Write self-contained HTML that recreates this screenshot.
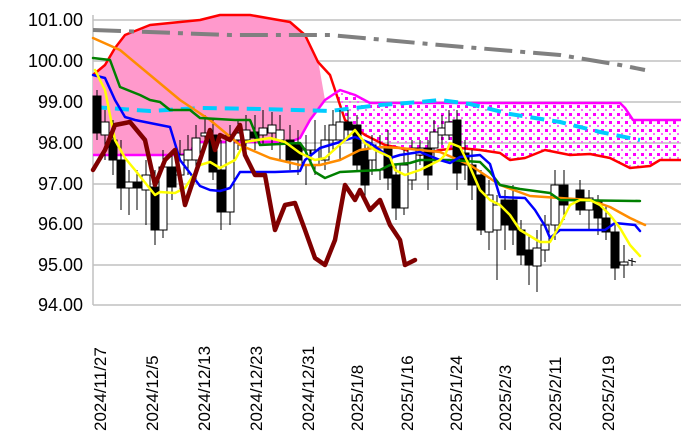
<!DOCTYPE html>
<html><head><meta charset="utf-8"><style>body{margin:0;background:#fff}svg{display:block}</style></head><body>
<svg width="681" height="432" viewBox="0 0 681 432" xmlns="http://www.w3.org/2000/svg" font-family="Liberation Sans, sans-serif">
<g stroke="#c0c0c0" stroke-width="1.5">
<line x1="93" y1="20" x2="681" y2="20"/><line x1="93" y1="61" x2="681" y2="61"/><line x1="93" y1="102" x2="681" y2="102"/><line x1="93" y1="143" x2="681" y2="143"/><line x1="93" y1="184" x2="681" y2="184"/><line x1="93" y1="224" x2="681" y2="224"/><line x1="93" y1="265" x2="681" y2="265"/><line x1="93" y1="305" x2="681" y2="305"/><line x1="93" y1="15" x2="93" y2="305"/>
</g>
<g font-size="18" text-anchor="end" fill="#000">
<text x="83" y="26">101.00</text><text x="83" y="67">100.00</text><text x="83" y="108">99.00</text><text x="83" y="149">98.00</text><text x="83" y="190">97.00</text><text x="83" y="230">96.00</text><text x="83" y="271">95.00</text><text x="83" y="311">94.00</text>
</g>
<g font-size="17" fill="#000">
<text transform="translate(106,431) rotate(-90)">2024/11/27</text>
<text transform="translate(158,431) rotate(-90)">2024/12/5</text>
<text transform="translate(210,431) rotate(-90)">2024/12/13</text>
<text transform="translate(262,431) rotate(-90)">2024/12/23</text>
<text transform="translate(314,431) rotate(-90)">2024/12/31</text>
<text transform="translate(363,431) rotate(-90)">2025/1/8</text>
<text transform="translate(413,431) rotate(-90)">2025/1/16</text>
<text transform="translate(462,431) rotate(-90)">2025/1/24</text>
<text transform="translate(511,431) rotate(-90)">2025/2/3</text>
<text transform="translate(561,431) rotate(-90)">2025/2/11</text>
<text transform="translate(614,431) rotate(-90)">2025/2/19</text>
</g>
<defs><pattern id="dots" width="8" height="8" patternUnits="userSpaceOnUse"><rect x="1" y="1" width="3" height="3" fill="#ff00ff"/><rect x="5" y="5" width="2" height="2" fill="#ff66ff"/></pattern></defs>
<polygon fill="#ff99cc" points="93,75 105,65 115,48 125,35 150,25 200,20 220,15 250,15 290,22 305,35 318,60 325,100 310,120 300,138 290,142 195,142 190,153 180,155 93,155"/>
<polygon fill="url(#dots)" points="325,100 340,90 355,95 370,103 620,103 625,108 633,120 681,120 681,160 660,160 650,166 630,168 610,158 590,154 570,155 545,150 525,158 510,160 500,153 480,150 460,148 440,150 420,155 400,148 385,145 365,135 345,120 335,95"/>
<g fill="none" stroke-linejoin="round">
<polyline stroke="#ff0000" stroke-width="2.5" points="93,75 105,65 115,48 125,35 150,25 200,20 220,15 250,15 290,22 305,35 318,62 330,75 335,90 345,120 365,135 385,145 400,148 420,155 440,150 460,148 480,150 500,153 510,160 525,158 545,150 570,155 590,154 610,158 630,168 650,166 660,160 681,160"/>
<polyline stroke="#ff00ff" stroke-width="2.5" points="93,155 180,155 190,153 195,142 290,142 300,138 310,120 325,100 340,90 355,95 370,103 620,103 625,108 633,120 681,120"/>
<polyline stroke="#808080" stroke-width="4" stroke-dasharray="28,8,5,8" points="93,30 230,35 330,35 440,45 560,55 620,65 645,70"/>
<polyline stroke="#00ccff" stroke-width="4" stroke-dasharray="14,8" points="93,107 150,111 200,108 260,109 330,111 380,105 420,102 440,100 470,104 510,114 560,122 600,132 640,140"/>
</g>
<g stroke="#000" stroke-width="1">
<line x1="97" y1="90" x2="97" y2="140"/><rect x="93" y="96" width="8" height="37" fill="#000"/>
<line x1="105" y1="110" x2="105" y2="160"/><rect x="101" y="122" width="8" height="13" fill="#fff"/>
<line x1="113" y1="120" x2="113" y2="175"/><rect x="109" y="140" width="8" height="20" fill="#000"/>
<line x1="121" y1="140" x2="121" y2="210"/><rect x="117" y="160" width="8" height="28" fill="#000"/>
<line x1="129" y1="170" x2="129" y2="215"/><rect x="125" y="182" width="8" height="6" fill="#fff"/>
<line x1="137" y1="170" x2="137" y2="210"/><rect x="133" y="182" width="8" height="6" fill="#000"/>
<line x1="146" y1="160" x2="146" y2="225"/><rect x="142" y="175" width="8" height="15" fill="#fff"/>
<line x1="155" y1="170" x2="155" y2="245"/><rect x="151" y="187" width="8" height="43" fill="#000"/>
<line x1="163" y1="150" x2="163" y2="238"/><rect x="159" y="167" width="8" height="63" fill="#fff"/>
<line x1="172" y1="150" x2="172" y2="200"/><rect x="168" y="167" width="8" height="20" fill="#000"/>
<line x1="180" y1="140" x2="180" y2="190"/><rect x="176" y="155" width="8" height="20" fill="#fff"/>
<line x1="188" y1="135" x2="188" y2="175"/><rect x="184" y="150" width="8" height="10" fill="#fff"/>
<line x1="196" y1="125" x2="196" y2="180"/><rect x="192" y="138" width="8" height="22" fill="#fff"/>
<line x1="205" y1="115" x2="205" y2="150"/><rect x="201" y="133" width="8" height="3" fill="#fff"/>
<line x1="213" y1="118" x2="213" y2="180"/><rect x="209" y="135" width="8" height="37" fill="#000"/>
<line x1="221" y1="140" x2="221" y2="230"/><rect x="217" y="170" width="8" height="42" fill="#000"/>
<line x1="230" y1="125" x2="230" y2="225"/><rect x="226" y="135" width="8" height="77" fill="#fff"/>
<line x1="238" y1="120" x2="238" y2="150"/><rect x="234" y="133" width="8" height="7" fill="#fff"/>
<line x1="246" y1="115" x2="246" y2="160"/><rect x="242" y="130" width="8" height="10" fill="#fff"/>
<line x1="255" y1="115" x2="255" y2="150"/><rect x="251" y="132" width="8" height="6" fill="#000"/>
<line x1="263" y1="110" x2="263" y2="145"/><rect x="259" y="128" width="8" height="7" fill="#fff"/>
<line x1="272" y1="112" x2="272" y2="150"/><rect x="268" y="125" width="8" height="8" fill="#fff"/>
<line x1="280" y1="115" x2="280" y2="160"/><rect x="276" y="130" width="8" height="10" fill="#fff"/>
<line x1="290" y1="125" x2="290" y2="170"/><rect x="286" y="140" width="8" height="20" fill="#000"/>
<line x1="298" y1="130" x2="298" y2="175"/><rect x="294" y="145" width="8" height="15" fill="#000"/>
<line x1="306" y1="135" x2="306" y2="185"/><rect x="302" y="150" width="8" height="15" fill="#fff"/>
<line x1="315" y1="120" x2="315" y2="175"/><rect x="311" y="150" width="8" height="15" fill="#fff"/>
<line x1="325" y1="125" x2="325" y2="170"/><rect x="321" y="140" width="8" height="20" fill="#fff"/>
<line x1="333" y1="110" x2="333" y2="150"/><rect x="329" y="125" width="8" height="15" fill="#fff"/>
<line x1="340" y1="110" x2="340" y2="160"/><rect x="336" y="122" width="8" height="18" fill="#fff"/>
<line x1="348" y1="110" x2="348" y2="140"/><rect x="344" y="122" width="8" height="8" fill="#000"/>
<line x1="357" y1="115" x2="357" y2="170"/><rect x="353" y="125" width="8" height="40" fill="#000"/>
<line x1="365" y1="140" x2="365" y2="200"/><rect x="361" y="150" width="8" height="35" fill="#000"/>
<line x1="372" y1="135" x2="372" y2="175"/><rect x="368" y="145" width="8" height="15" fill="#fff"/>
<line x1="380" y1="135" x2="380" y2="180"/><rect x="376" y="148" width="8" height="22" fill="#fff"/>
<line x1="388" y1="130" x2="388" y2="190"/><rect x="384" y="148" width="8" height="30" fill="#000"/>
<line x1="396" y1="165" x2="396" y2="220"/><rect x="392" y="175" width="8" height="33" fill="#000"/>
<line x1="404" y1="150" x2="404" y2="215"/><rect x="400" y="165" width="8" height="43" fill="#fff"/>
<line x1="412" y1="140" x2="412" y2="190"/><rect x="408" y="148" width="8" height="32" fill="#fff"/>
<line x1="420" y1="140" x2="420" y2="165"/><rect x="416" y="148" width="8" height="7" fill="#fff"/>
<line x1="428" y1="140" x2="428" y2="190"/><rect x="424" y="148" width="8" height="27" fill="#000"/>
<line x1="434" y1="120" x2="434" y2="160"/><rect x="430" y="132" width="8" height="16" fill="#fff"/>
<line x1="442" y1="115" x2="442" y2="145"/><rect x="438" y="128" width="8" height="7" fill="#fff"/>
<line x1="449" y1="110" x2="449" y2="140"/><rect x="445" y="122" width="8" height="13" fill="#fff"/>
<line x1="457" y1="110" x2="457" y2="190"/><rect x="453" y="120" width="8" height="53" fill="#000"/>
<line x1="465" y1="140" x2="465" y2="180"/><rect x="461" y="153" width="8" height="12" fill="#000"/>
<line x1="472" y1="150" x2="472" y2="200"/><rect x="468" y="165" width="8" height="20" fill="#000"/>
<line x1="481" y1="170" x2="481" y2="235"/><rect x="477" y="175" width="8" height="55" fill="#000"/>
<line x1="489" y1="180" x2="489" y2="250"/><rect x="485" y="195" width="8" height="37" fill="#fff"/>
<line x1="497" y1="195" x2="497" y2="280"/><rect x="493" y="205" width="8" height="25" fill="#fff"/>
<line x1="505" y1="190" x2="505" y2="250"/><rect x="501" y="200" width="8" height="25" fill="#000"/>
<line x1="513" y1="185" x2="513" y2="245"/><rect x="509" y="200" width="8" height="30" fill="#000"/>
<line x1="521" y1="220" x2="521" y2="265"/><rect x="517" y="230" width="8" height="25" fill="#000"/>
<line x1="529" y1="235" x2="529" y2="285"/><rect x="525" y="250" width="8" height="15" fill="#000"/>
<line x1="537" y1="230" x2="537" y2="292"/><rect x="533" y="248" width="8" height="18" fill="#fff"/>
<line x1="545" y1="215" x2="545" y2="262"/><rect x="541" y="225" width="8" height="25" fill="#fff"/>
<line x1="555" y1="170" x2="555" y2="240"/><rect x="551" y="185" width="8" height="40" fill="#fff"/>
<line x1="564" y1="170" x2="564" y2="220"/><rect x="560" y="185" width="8" height="20" fill="#000"/>
<line x1="580" y1="180" x2="580" y2="215"/><rect x="576" y="190" width="8" height="20" fill="#000"/>
<line x1="589" y1="190" x2="589" y2="230"/><rect x="585" y="198" width="8" height="12" fill="#fff"/>
<line x1="598" y1="195" x2="598" y2="235"/><rect x="594" y="200" width="8" height="18" fill="#000"/>
<line x1="606" y1="205" x2="606" y2="240"/><rect x="602" y="218" width="8" height="14" fill="#000"/>
<line x1="615" y1="225" x2="615" y2="280"/><rect x="611" y="232" width="8" height="36" fill="#000"/>
<line x1="624" y1="245" x2="624" y2="278"/><rect x="620" y="262" width="8" height="3" fill="#fff"/>
<line x1="628" y1="260" x2="636" y2="262"/><line x1="632" y1="258" x2="632" y2="266"/>
</g>
<g fill="none" stroke-linejoin="round" stroke-linecap="round">
<polyline stroke="#ff8c00" stroke-width="2.5" points="93,38 120,50 150,75 180,100 210,120 240,145 270,158 300,165 320,165 340,160 360,150 380,147 400,148 420,150 440,152 470,165 500,185 530,196 560,198 590,200 610,207 630,218 645,225"/>
<polyline stroke="#008000" stroke-width="2.5" points="93,58 110,60 120,87 140,95 150,100 160,102 170,110 190,110 200,118 235,120 250,120 260,145 300,143 305,150 315,172 325,178 340,172 380,170 390,165 410,163 420,160 450,160 480,162 490,172 500,185 520,189 550,193 560,200 640,201"/>
<polyline stroke="#0000ff" stroke-width="2.5" points="93,75 105,78 115,100 125,117 135,120 160,125 170,127 180,160 190,173 200,186 210,190 220,191 230,188 240,172 275,172 300,171 305,160 320,148 340,142 355,137 370,143 380,150 390,158 400,155 420,152 440,160 450,163 460,157 480,155 490,164 500,197 525,198 535,210 545,226 550,238 560,230 605,230 615,223 635,225 640,231"/>
<polyline stroke="#ffff00" stroke-width="2.5" points="95,70 105,90 115,140 125,158 135,170 155,195 160,192 175,193 185,188 200,165 210,162 220,168 235,160 245,142 270,138 285,142 300,153 315,160 325,158 345,140 355,130 365,143 375,150 390,157 395,170 405,175 420,170 440,160 445,155 450,143 460,147 470,167 480,190 490,200 500,205 510,215 520,230 540,242 550,242 560,225 570,205 580,200 590,200 600,205 610,215 620,228 630,245 640,256"/>
<polyline stroke="#800000" stroke-width="4.5" points="93,170 105,150 115,125 130,122 145,140 155,185 165,160 175,150 185,205 195,175 205,145 210,130 215,150 220,135 230,140 240,125 245,155 255,175 265,175 275,230 285,205 295,203 305,230 315,258 325,265 335,240 345,185 355,200 360,190 370,210 380,200 390,225 400,240 405,265 415,260"/>
</g>
</svg>
</body></html>
